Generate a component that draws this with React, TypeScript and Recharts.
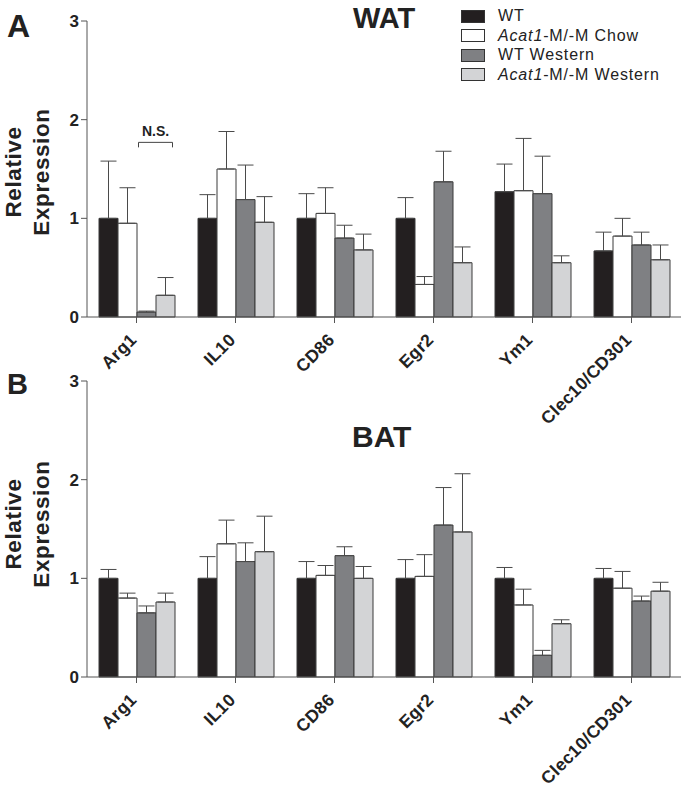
import React from 'react';
import { BarChart, Bar, XAxis, YAxis, ErrorBar, Legend, ReferenceDot } from 'recharts';

const FONT = '"Liberation Sans", Arial, Helvetica, sans-serif';

const genes = ['Arg1', 'IL10', 'CD86', 'Egr2', 'Ym1', 'Clec10/CD301'];
const yTicks = [0, 1, 2, 3];
const seriesKeys = ['wt', 'chow', 'wtw', 'acw'];
const seriesColors = ['#231f20', '#ffffff', '#7f8083', '#d3d4d6'];

// WAT (panel A)
const watWT = [1.0, 1.0, 1.0, 1.0, 1.27, 0.67];
const watWTErr = [0.58, 0.24, 0.25, 0.21, 0.28, 0.19];
const watChow = [0.95, 1.5, 1.05, 0.33, 1.28, 0.82];
const watChowErr = [0.36, 0.38, 0.26, 0.08, 0.53, 0.18];
const watWTWest = [0.05, 1.19, 0.8, 1.37, 1.25, 0.73];
const watWTWestErr = [0.01, 0.35, 0.13, 0.31, 0.38, 0.13];
const watAcatWest = [0.22, 0.96, 0.68, 0.55, 0.55, 0.58];
const watAcatWestErr = [0.18, 0.26, 0.16, 0.16, 0.07, 0.15];

// BAT (panel B)
const batWT = [1.0, 1.0, 1.0, 1.0, 1.0, 1.0];
const batWTErr = [0.09, 0.22, 0.17, 0.19, 0.11, 0.1];
const batChow = [0.8, 1.35, 1.03, 1.02, 0.73, 0.9];
const batChowErr = [0.05, 0.24, 0.1, 0.22, 0.16, 0.17];
const batWTWest = [0.65, 1.17, 1.23, 1.54, 0.22, 0.77];
const batWTWestErr = [0.07, 0.19, 0.09, 0.38, 0.05, 0.05];
const batAcatWest = [0.76, 1.27, 1.0, 1.47, 0.54, 0.87];
const batAcatWestErr = [0.09, 0.36, 0.12, 0.59, 0.04, 0.09];

function buildRows(vals: number[][], errs: number[][]) {
  return genes.map((g, i) => {
    const row: any = { gene: g };
    seriesKeys.forEach((k, s) => {
      row[k] = vals[s][i];
      row[k + 'Err'] = [0, errs[s][i]];
    });
    return row;
  });
}

const watRows = buildRows(
  [watWT, watChow, watWTWest, watAcatWest],
  [watWTErr, watChowErr, watWTWestErr, watAcatWestErr]
);
const batRows = buildRows(
  [batWT, batChow, batWTWest, batAcatWest],
  [batWTErr, batChowErr, batWTWestErr, batAcatWestErr]
);

const XTick = (props: any) => {
  const { x, y, payload } = props;
  const ax = x + 1;
  const ay = y + 16;
  return (
    <text
      x={ax}
      y={ay}
      transform={`rotate(-45 ${ax} ${ay})`}
      textAnchor="end"
      fontSize={17.5}
      letterSpacing={0.3}
      fontWeight="bold"
      fill="#222"
      fontFamily={FONT}
    >
      {payload.value}
    </text>
  );
};

const makeYLabel = (shift: number) => (props: any) => {
  const vb = props.viewBox || {};
  const cy = (vb.y || 0) + (vb.height || 0) / 2 + shift;
  return (
    <g fontFamily={FONT} fontWeight="bold" fontSize={22.5} letterSpacing={0.6} fill="#222">
      <text x={21} y={cy} transform={`rotate(-90 21 ${cy})`} textAnchor="middle">Relative</text>
      <text x={49} y={cy} transform={`rotate(-90 49 ${cy})`} textAnchor="middle">Expression</text>
    </g>
  );
};

const LegendContent = () => (
  <div style={{ fontFamily: FONT, fontSize: 16, letterSpacing: 0.85, color: '#222' }}>
    {[
      <span>WT</span>,
      <span><i>Acat1</i>-M/-M Chow</span>,
      <span>WT Western</span>,
      <span><i>Acat1</i>-M/-M Western</span>,
    ].map((lab, i) => (
      <div key={i} style={{ display: 'flex', alignItems: 'center', height: 19.5, whiteSpace: 'nowrap' }}>
        <span
          style={{
            display: 'inline-block',
            width: 24,
            height: 13,
            boxSizing: 'border-box',
            background: seriesColors[i],
            border: '1px solid #333',
            marginRight: 13,
          }}
        />
        {lab}
      </div>
    ))}
  </div>
);

const NSBracket = (p: any) => {
  const { cx, cy } = p;
  if (cx == null || cy == null) return null;
  const x1 = cx + 2;
  const x2 = cx + 36;
  return (
    <g>
      <path d={`M${x1},${cy + 5} L${x1},${cy} L${x2},${cy} L${x2},${cy + 5}`} fill="none" stroke="#444" strokeWidth={1} />
      <text x={(x1 + x2) / 2} y={cy - 6} textAnchor="middle" fontSize={14} fontWeight="bold" fill="#222" fontFamily={FONT}>
        N.S.
      </text>
    </g>
  );
};

function Panel(props: { rows: any[]; height: number; top: number; xh: number; labelShift: number; legend?: boolean; ns?: boolean }) {
  const { rows, height, top, xh, labelShift, legend, ns } = props;
  return (
    <BarChart
      width={681}
      height={height}
      data={rows}
      margin={{ top, right: 0, left: 0, bottom: 0 }}
      barSize={19}
      barGap={0}
    >
      <XAxis
        dataKey="gene"
        height={xh}
        interval={0}
        tickSize={6}
        tickMargin={2}
        tick={<XTick />}
        axisLine={{ stroke: '#555' }}
        tickLine={{ stroke: '#555' }}
      />
      <YAxis
        width={87}
        domain={[0, 3]}
        ticks={yTicks}
        interval={0}
        tickSize={6}
        tickMargin={2}
        axisLine={{ stroke: '#555' }}
        tickLine={{ stroke: '#555' }}
        tick={{ fontSize: 17, fontWeight: 'bold', fill: '#222', fontFamily: FONT }}
        label={{ content: makeYLabel(labelShift) }}
      />
      {seriesKeys.map((k, i) => (
        <Bar key={k} dataKey={k} fill={seriesColors[i]} stroke="#3a3a3a" strokeWidth={1} isAnimationActive={false}>
          <ErrorBar dataKey={k + 'Err'} direction="y" width={8} stroke="#4a4a4a" strokeWidth={1} />
        </Bar>
      ))}
      {ns && <ReferenceDot x="Arg1" y={1.77} ifOverflow="visible" shape={NSBracket} />}
      {legend && (
        <Legend
          layout="vertical"
          align="center"
          verticalAlign="middle"
          content={<LegendContent />}
          wrapperStyle={{ position: 'absolute', top: 6.5, left: 461, width: 220, height: 80 }}
        />
      )}
    </BarChart>
  );
}

export default function App() {
  return (
    <div style={{ position: 'absolute', left: 0, top: 0, width: 681, height: 794, background: '#fff', overflow: 'hidden' }}>
      <div style={{ position: 'absolute', left: 0, top: 0 }}>
        <Panel rows={watRows} height={430} top={21} xh={113} labelShift={3} legend ns />
      </div>
      <div style={{ position: 'absolute', left: 0, top: 370 }}>
        <Panel rows={batRows} height={424} top={11} xh={117} labelShift={-5} />
      </div>
      <svg width={681} height={794} style={{ position: 'absolute', left: 0, top: 0, pointerEvents: 'none' }}>
        <g fontFamily={FONT} fontWeight="bold" fill="#222">
          <text x={7} y={37} fontSize={32}>A</text>
          <text x={353} y={28} fontSize={29}>WAT</text>
          <text x={7} y={394} fontSize={29}>B</text>
          <text x={352} y={447} fontSize={30}>BAT</text>
        </g>
      </svg>
    </div>
  );
}
